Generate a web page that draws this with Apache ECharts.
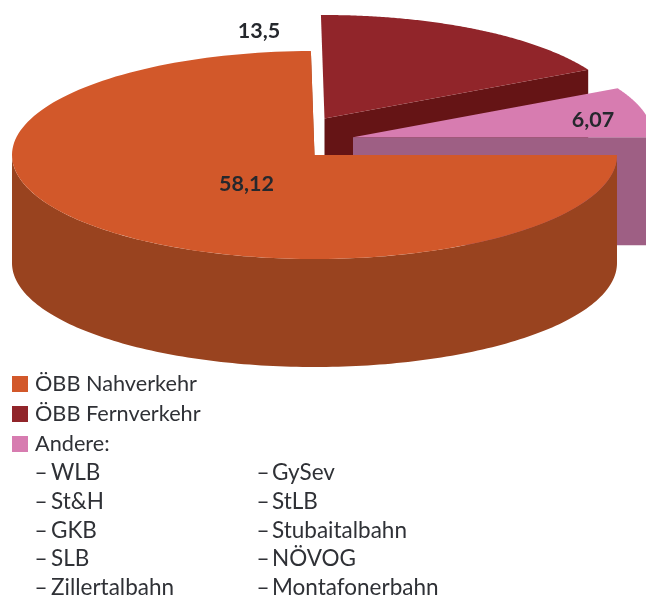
<!DOCTYPE html>
<html>
<head>
<meta charset="utf-8">
<style>
  html, body { margin: 0; padding: 0; background: #fff; }
  #main { width: 646px; height: 597px; }
</style>
<script src="https://cdn.jsdelivr.net/npm/echarts@6/dist/echarts.min.js"></script>
</head>
<body>
<div id="main"></div>
<script>
var sliceNames = ['ÖBB Nahverkehr', 'ÖBB Fernverkehr', 'Andere:'];
var sliceValues = [58.12, 13.5, 6.07];
var otherLeft = ['WLB', 'St&H', 'GKB', 'SLB', 'Zillertalbahn'];
var otherRight = ['GySev', 'StLB', 'Stubaitalbahn', 'NÖVOG', 'Montafonerbahn'];

var topColors = ['#d2582a', '#91252a', '#d77cb0'];
var wallColors = ['#99431f', '#651415', '#9e5f84'];
var textColor = '#2f3136';
var labelColor = '#25282d';
var fontName = 'Lato';

var myChart = echarts.init(document.getElementById('main'));

// height of the pie wall
var depth = 108;
// where each slice has its apex, [x, y, radius x, radius y]
var apex = [[314.5, 155, 302.5, 104], [324.5, 118.5, 299, 103.5], [353, 137.3, 300, 104]];
// label centres
var labelPos = [[246.5, 184], [259, 31], [593, 120]];

var total = 0;
for (var i = 0; i < sliceValues.length; i++) total += sliceValues[i];

function sliceAngles(index) {
    var start = 0;
    for (var i = 0; i < index; i++) start += sliceValues[i];
    return [start / total * Math.PI * 2, (start + sliceValues[index]) / total * Math.PI * 2];
}

function rimPoint(a, ang, dy) {
    return [a[0] + a[2] * Math.cos(ang), a[1] + a[3] * Math.sin(ang) + (dy || 0)];
}

function renderSlice(index) {
    return function (params, api) {
        var a = apex[index];
        var value = api.value(0);
        var ang = sliceAngles(index);
        var steps = 160;
        var top = [[a[0], a[1]]];
        var s;
        for (s = 0; s <= steps; s++) {
            top.push(rimPoint(a, ang[0] + (ang[1] - ang[0]) * s / steps));
        }
        var children = [];

        // cut face at the end of the slice
        var endRim = rimPoint(a, ang[1]);
        children.push({
            type: 'polygon',
            shape: { points: [[a[0], a[1]], endRim, [endRim[0], endRim[1] + depth], [a[0], a[1] + depth]] },
            style: { fill: wallColors[index] }
        });

        // outer wall, only the front half of the rim can be seen
        var from = Math.max(ang[0], 0), to = Math.min(ang[1], Math.PI);
        if (to > from) {
            var upper = [], lower = [];
            for (s = 0; s <= steps; s++) {
                var t = from + (to - from) * s / steps;
                upper.push(rimPoint(a, t));
                lower.unshift(rimPoint(a, t, depth));
            }
            children.push({
                type: 'polygon',
                shape: { points: upper.concat(lower) },
                style: { fill: wallColors[index] }
            });
        }

        children.push({
            type: 'polygon',
            shape: { points: top },
            style: { fill: api.visual('color') }
        });
        children.push({
            type: 'text',
            style: {
                text: String(value).replace('.', ','),
                x: labelPos[index][0],
                y: labelPos[index][1],
                align: 'center',
                verticalAlign: 'middle',
                fill: labelColor,
                font: 'bold 21.5px ' + fontName
            }
        });
        return { type: 'group', children: children };
    };
}

// back slices first, the big one covers their walls
var drawOrder = [1, 2, 0];
var series = [];
drawOrder.forEach(function (idx) {
    series.push({
        type: 'custom',
        name: sliceNames[idx],
        coordinateSystem: 'none',
        silent: true,
        itemStyle: { color: topColors[idx] },
        renderItem: renderSlice(idx),
        data: [[sliceValues[idx]]]
    });
});

var listTexts = [];
function listText(text, x, y) {
    listTexts.push({
        type: 'text',
        silent: true,
        style: {
            text: text,
            x: x,
            y: y,
            verticalAlign: 'middle',
            fill: textColor,
            font: '22.5px ' + fontName
        }
    });
}
function addColumn(names, dashX, nameX) {
    for (var i = 0; i < names.length; i++) {
        var y = 472.5 + i * 28.9;
        listText('–', dashX, y);
        listText(names[i], nameX, y);
    }
}
addColumn(otherLeft, 34.5, 51);
addColumn(otherRight, 256.5, 272);

var option = {
    animation: false,
    legend: {
        data: sliceNames,
        orient: 'vertical',
        left: 12,
        top: 373,
        icon: 'rect',
        itemWidth: 16,
        itemHeight: 16,
        itemGap: 8,
        selectedMode: false,
        padding: 0,
        textStyle: {
            color: textColor,
            fontFamily: fontName,
            fontSize: 21.7,
            lineHeight: 21,
            padding: [0, 0, 0, 2]
        }
    },
    graphic: listTexts,
    series: series
};

myChart.setOption(option);
</script>
</body>
</html>
